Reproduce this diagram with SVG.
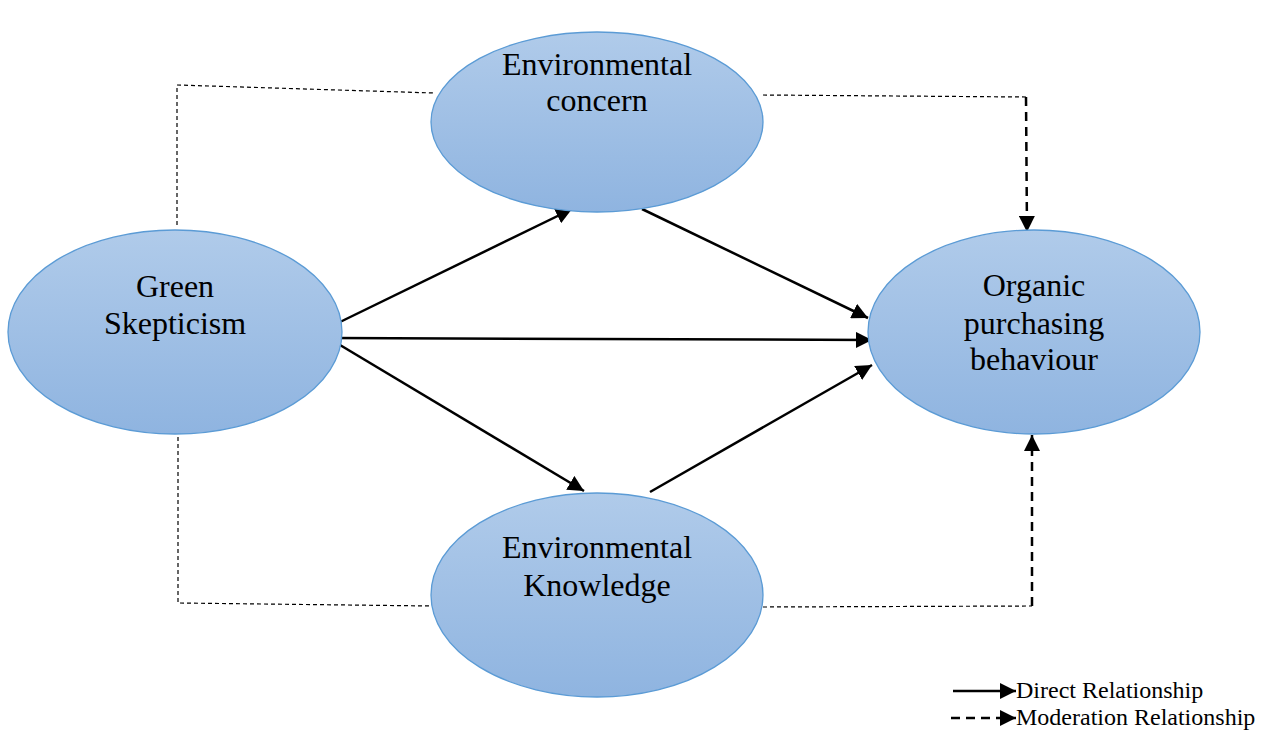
<svg xmlns="http://www.w3.org/2000/svg" width="1270" height="731" viewBox="0 0 1270 731">
<defs>
<linearGradient id="g" x1="0" y1="0" x2="0" y2="1">
<stop offset="0" stop-color="#b0cbea"/>
<stop offset="1" stop-color="#8fb4e0"/>
</linearGradient>
<marker id="ahb" viewBox="0 0 10 10" refX="10" refY="5" markerWidth="16" markerHeight="16" markerUnits="userSpaceOnUse" orient="auto">
<path d="M0,0 L10,5 L0,10 z" fill="#000"/>
</marker>
</defs>
<style>
.node ellipse{fill:url(#g);stroke:#5b9bd5;stroke-width:1.3}
.lbl{font-family:"Liberation Serif","Times New Roman",serif;font-size:32px;fill:#000;text-anchor:middle}
.solid{stroke:#000;stroke-width:2.5;fill:none}
.thin{stroke:#000;stroke-width:1.2;fill:none;stroke-dasharray:4,3}
.thick{stroke:#000;stroke-width:2.5;fill:none;stroke-dasharray:9,6}
.leg{font-family:"Liberation Serif","Times New Roman",serif;font-size:24px;fill:#000}
</style>
<rect width="1270" height="731" fill="#fff"/>
<g id="connectors">
<polyline class="thin" points="177,225 177,85 434,93"/>
<polyline class="thin" points="763,95 1026,97"/>
<path class="thick" d="M1026,97 L1027,232" marker-end="url(#ahb)"/>
<polyline class="thin" points="178,437 178,603 432,606"/>
<polyline class="thin" points="763,607 1032,606"/>
<path class="thick" d="M1032,606 L1032,435" marker-end="url(#ahb)"/>
<path class="solid" d="M340,322 L572,209" marker-end="url(#ahb)"/>
<path class="solid" d="M642,209 L868,318" marker-end="url(#ahb)"/>
<path class="solid" d="M335,338 L872,340" marker-end="url(#ahb)"/>
<path class="solid" d="M335,342 L584,491" marker-end="url(#ahb)"/>
<path class="solid" d="M650,492 L872,365" marker-end="url(#ahb)"/>
</g>
<g id="env-concern" class="node">
<ellipse cx="597" cy="122" rx="166" ry="90"/>
<text class="lbl" x="597" y="75">Environmental</text>
<text class="lbl" x="597" y="111">concern</text>
</g>
<g id="green-skepticism" class="node">
<ellipse cx="175" cy="332" rx="167" ry="102"/>
<text class="lbl" x="175" y="297">Green</text>
<text class="lbl" x="175" y="334">Skepticism</text>
</g>
<g id="organic" class="node">
<ellipse cx="1034" cy="332" rx="166" ry="102"/>
<text class="lbl" x="1034" y="296">Organic</text>
<text class="lbl" x="1034" y="334">purchasing</text>
<text class="lbl" x="1034" y="370">behaviour</text>
</g>
<g id="env-knowledge" class="node">
<ellipse cx="597" cy="595" rx="166" ry="102"/>
<text class="lbl" x="597" y="558">Environmental</text>
<text class="lbl" x="597" y="596">Knowledge</text>
</g>
<g id="legend">
<path class="solid" d="M953,691 L1016,691" marker-end="url(#ahb)"/>
<text class="leg" x="1016" y="698">Direct Relationship</text>
<path class="thick" d="M951,718 L1016,718" marker-end="url(#ahb)"/>
<text class="leg" x="1016" y="725">Moderation Relationship</text>
</g>
</svg>
